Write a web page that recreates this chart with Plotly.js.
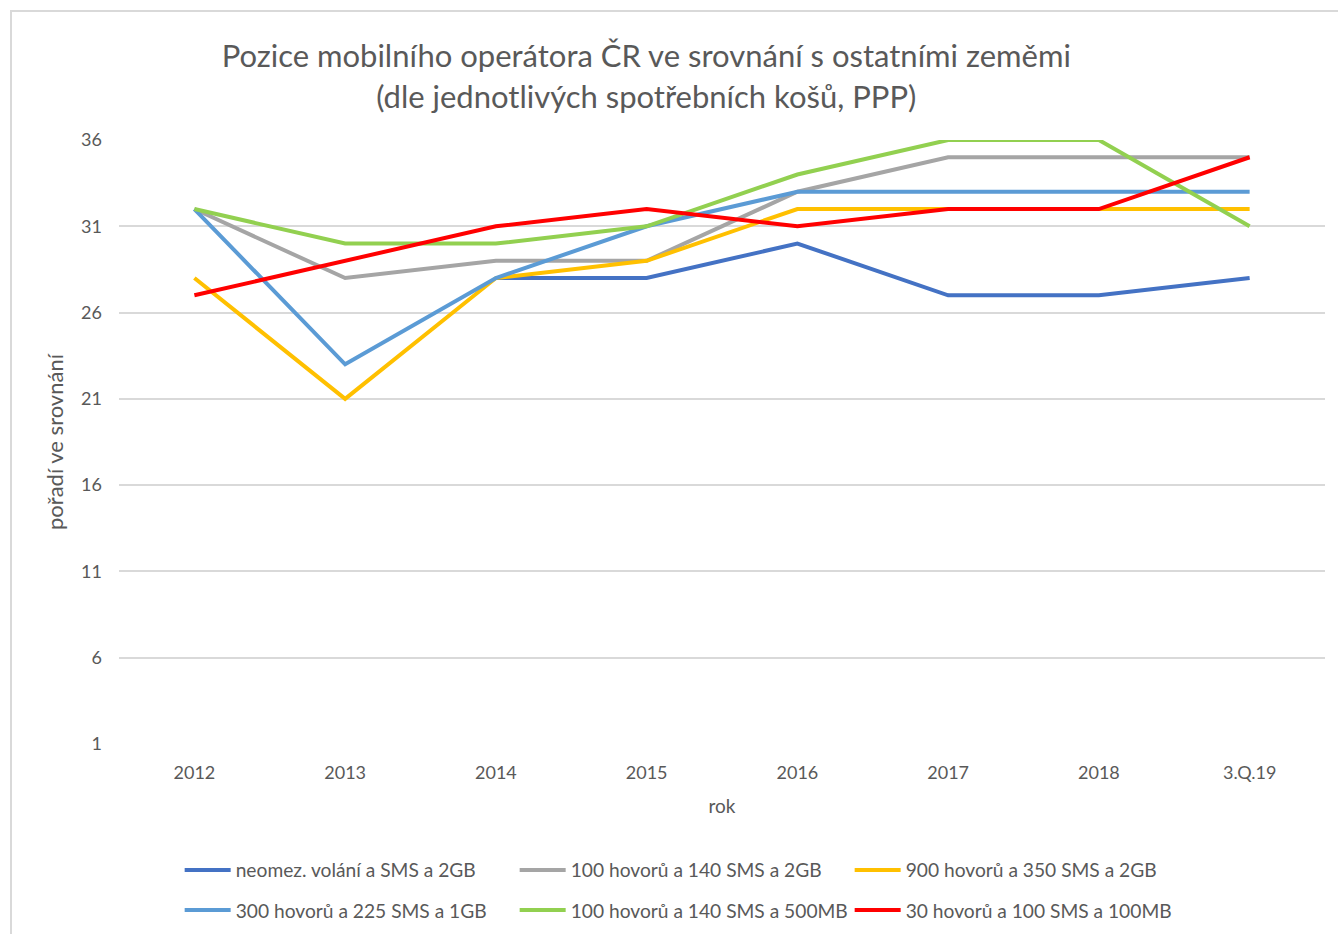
<!DOCTYPE html>
<html>
<head>
<meta charset="utf-8">
<script src="https://cdn.plot.ly/plotly-3.0.1.min.js"></script>
<style>
html,body{margin:0;padding:0;background:#fff;}
#chart{width:1338px;height:934px;position:relative;}
#frame{position:absolute;left:10px;top:10px;width:1328px;height:924px;border-top:2px solid #d9d9d9;border-left:2px solid #d9d9d9;pointer-events:none;box-sizing:border-box;}
</style>
</head>
<body>
<div id="chart"></div>
<div id="frame"></div>
<script>
const years = ["2012","2013","2014","2015","2016","2017","2018","3.Q.19"];
const seriesNames = [
  "neomez. volání a SMS a 2GB",
  "100 hovorů a 140 SMS a 2GB",
  "900 hovorů a 350 SMS a 2GB",
  "300 hovorů a 225 SMS a 1GB",
  "100 hovorů a 140 SMS a 500MB",
  "30 hovorů a 100 SMS a 100MB"
];
const neomez = [null, null, 28, 28, 30, 27, 27, 28];
const hovoru100_2GB = [32, 28, 29, 29, 33, 35, 35, 35];
const hovoru900 = [28, 21, 28, 29, 32, 32, 32, 32];
const hovoru300 = [32, 23, 28, 31, 33, 33, 33, 33];
const hovoru100_500MB = [32, 30, 30, 31, 34, 36, 36, 31];
const hovoru30 = [27, 29, 31, 32, 31, 32, 32, 35];
const yTicks = [1, 6, 11, 16, 21, 26, 31, 36];
const colors = ["#4472C4", "#A5A5A5", "#FFC000", "#5B9BD5", "#92D050", "#FF0000"];
const allValues = [neomez, hovoru100_2GB, hovoru900, hovoru300, hovoru100_500MB, hovoru30];

const font = "Lato, 'Open Sans', sans-serif";
const grey = "#595959";

const traces = allValues.map((vals, i) => ({
  type: "scatter",
  mode: "lines",
  x: years,
  y: vals,
  name: seriesNames[i],
  line: {color: colors[i], width: 4},
  connectgaps: false,
  legend: i < 3 ? "legend" : "legend2"
}));

const legendCommon = {
  orientation: "h",
  xanchor: "left",
  yanchor: "top",
  xref: "paper",
  yref: "container",
  entrywidth: 274,
  entrywidthmode: "pixels",
  itemwidth: 46,
  font: {family: font, size: 19.2, color: grey},
  bgcolor: "rgba(0,0,0,0)",
  traceorder: "normal"
};

const layout = {
  width: 1338,
  height: 934,
  paper_bgcolor: "#ffffff",
  plot_bgcolor: "#ffffff",
  margin: {l: 119, r: 13, t: 140, b: 190},
  title: {
    text: "Pozice mobilního operátora ČR ve srovnání s ostatními zeměmi<br>(dle jednotlivých spotřebních košů, PPP)",
    font: {family: font, size: 31, color: grey},
    x: 0.483, xanchor: "center", xref: "container",
    y: 0.928, yanchor: "top", yref: "container"
  },
  xaxis: {
    type: "category",
    range: [-0.5, 7.5],
    automargin: false,
    showgrid: false,
    zeroline: false,
    showline: false,
    ticks: "",
    tickfont: {family: font, size: 18, color: grey},
    ticklabelstandoff: 16,
    title: {text: "rok", font: {family: font, size: 19, color: grey}, standoff: 17}
  },
  yaxis: {
    range: [1, 36],
    automargin: false,
    tickvals: yTicks,
    ticktext: yTicks.map(String),
    showgrid: true,
    gridcolor: "#d9d9d9",
    gridwidth: 2,
    zeroline: false,
    showline: false,
    ticks: "",
    tickfont: {family: font, size: 18, color: grey},
    ticklabelstandoff: 16,
    title: {text: "pořadí ve srovnání", font: {family: font, size: 22, color: grey}, standoff: 11}
  },
  legend: Object.assign({}, legendCommon, {x: 0.0503, y: 0.0889}),
  legend2: Object.assign({}, legendCommon, {x: 0.0503, y: 0.046}),
  showlegend: true
};

Plotly.newPlot("chart", traces, layout, {displayModeBar: false, staticPlot: true});
</script>
</body>
</html>
